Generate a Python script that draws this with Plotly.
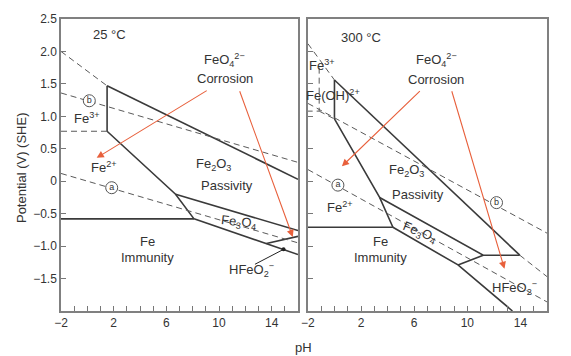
import plotly.graph_objects as go

# ---------------- axis ticks ----------------
ph_tickvals = [-2, 2, 6, 10, 14]
ph_ticktext = ["−2", "2", "6", "10", "14"]
e_tickvals = [-1.5, -1.0, -0.5, 0, 0.5, 1.0, 1.5, 2.0, 2.5]
e_ticktext = ["−1.5", "−1.0", "−0.5", "0", "0.5", "1.0", "1.5", "2.0", "2.5"]

# ---------------- 25 °C : solid phase boundaries (pH, E) ----------------
s25_top_ph = [1.5, 16.0]
s25_top_e = [1.47, 0.03]
s25_vert_ph = [1.5, 1.5]
s25_vert_e = [1.47, 0.77]
s25_fe2_ph = [1.5, 6.7, 8.1]
s25_fe2_e = [0.77, -0.20, -0.58]
s25_fe_ph = [-2.0, 8.1]
s25_fe_e = [-0.58, -0.58]
s25_mag_up_ph = [6.7, 16.0]
s25_mag_up_e = [-0.20, -0.76]
s25_mag_lo_ph = [8.1, 16.0]
s25_mag_lo_e = [-0.58, -1.13]
s25_hfeo2_ph = [13.6, 16.0]
s25_hfeo2_e = [-0.96, -0.85]

# ---------------- 25 °C : dashed lines ----------------
d25_top_ph = [-2.0, 1.5]
d25_top_e = [2.00, 1.47]
d25_fe3_ph = [-2.0, 1.5]
d25_fe3_e = [0.77, 0.77]
d25_a_ph = [-2.0, 16.0]
d25_a_e = [0.12, -0.95]
d25_b_ph = [-2.0, 16.0]
d25_b_e = [1.36, 0.29]

# ---------------- 300 °C : solid phase boundaries ----------------
s300_top_ph = [0.0, 13.95]
s300_top_e = [1.56, -1.14]
s300_vert_ph = [0.0, 0.0]
s300_vert_e = [1.56, 0.96]
s300_fe2_ph = [0.0, 3.4, 4.4]
s300_fe2_e = [0.96, -0.25, -0.71]
s300_fe_ph = [-2.0, 4.4]
s300_fe_e = [-0.71, -0.71]
s300_mag_up_ph = [3.4, 11.2, 13.95]
s300_mag_up_e = [-0.25, -1.14, -1.14]
s300_mag_lo_ph = [4.4, 9.3, 13.4]
s300_mag_lo_e = [-0.71, -1.29, -2.0]
s300_hfeo2_ph = [9.3, 11.2]
s300_hfeo2_e = [-1.29, -1.14]

# ---------------- 300 °C : dashed lines ----------------
d300_top_ph = [-2.0, 0.0]
d300_top_e = [2.12, 1.56]
d300_box_ph = [-1.15, -1.15, -2.0]
d300_box_e = [1.75, 1.08, 1.08]
d300_feoh_ph = [-1.15, 0.0]
d300_feoh_e = [1.08, 0.96]
d300_a_ph = [-2.0, 16.0]
d300_a_e = [0.18, -1.86]
d300_b_ph = [-2.0, 16.0]
d300_b_e = [1.20, -0.80]
d300_ext_ph = [13.95, 16.0]
d300_ext_e = [-1.14, -1.47]

# ---------------- circled labels ----------------
circ25_ph = [1.85, 0.15]
circ25_e = [-0.10, 1.24]
circ300_ph = [0.26, 12.2]
circ300_e = [-0.06, -0.33]
circ_text = ["a", "b"]

# ---------------- HFeO2- pointer (25 °C) ----------------
ptr25_ph = [12.73, 14.9]
ptr25_e = [-1.28, -1.05]

# ---------------- red arrows: (tail pH, tail E, head pH, head E) ----------------
arr25_tail_ph = [9.18, 11.53]
arr25_tail_e = [1.41, 1.41]
arr25_head_ph = [0.71, 15.6]
arr25_head_e = [0.36, -0.86]
arr300_tail_ph = [6.54, 8.8]
arr300_tail_e = [1.41, 1.41]
arr300_head_ph = [0.56, 12.8]
arr300_head_e = [0.23, -1.35]

# ---------------- text labels ----------------
lab25_text = ["25 °C", "FeO<sub>4</sub><sup>2−</sup>", "Corrosion", "Fe<sup>3+</sup>",
              "Fe<sup>2+</sup>", "Fe<sub>2</sub>O<sub>3</sub>", "Passivity",
              "Fe<sub>3</sub>O<sub>4</sub>", "Fe", "Immunity", "HFeO<sub>2</sub><sup>−</sup>"]
lab25_ph = [1.7, 10.45, 10.45, 0.0, 1.3, 9.6, 10.6, 11.5, 4.6, 4.6, 12.5]
lab25_e = [2.26, 1.87, 1.59, 0.98, 0.22, 0.26, -0.06, -0.64, -0.93, -1.18, -1.37]
lab25_ang = [0, 0, 0, 0, 0, 0, 0, 6, 0, 0, 0]

lab300_text = ["300 °C", "FeO<sub>4</sub><sup>2−</sup>", "Corrosion", "Fe<sup>3+</sup>",
               "Fe(OH)<sup>2+</sup>", "Fe<sub>2</sub>O<sub>3</sub>", "Passivity",
               "Fe<sup>2+</sup>", "Fe<sub>3</sub>O<sub>4</sub>", "Fe", "Immunity",
               "HFeO<sub>2</sub><sup>−</sup>"]
lab300_ph = [2.0, 7.67, 7.67, -0.95, -0.1, 5.4, 6.3, 0.4, 6.4, 3.5, 3.5, 13.55]
lab300_e = [2.22, 1.87, 1.57, 1.79, 1.33, 0.16, -0.20, -0.40, -0.79, -0.93, -1.17, -1.64]
lab300_ang = [0, 0, 0, 0, 0, 0, 0, 0, 22, 0, 0, 0]

FONT = "Liberation Sans, Arial, sans-serif"
TXT = "#333333"
SOLID = "#3a3a3a"
DASH = "#5a5a5a"
RED = "#e8603c"
LABEL_SIZE = 13

fig = go.Figure()


def add_line(ph, e, xa, ya, dashed=False):
    fig.add_trace(go.Scatter(
        x=ph, y=e, mode="lines", xaxis=xa, yaxis=ya, hoverinfo="skip",
        line=dict(color=DASH if dashed else SOLID,
                  width=1.0 if dashed else 1.6,
                  dash="6px,4px" if dashed else "solid"),
        showlegend=False))


for ph, e in [(s25_top_ph, s25_top_e), (s25_vert_ph, s25_vert_e), (s25_fe2_ph, s25_fe2_e),
              (s25_fe_ph, s25_fe_e), (s25_mag_up_ph, s25_mag_up_e),
              (s25_mag_lo_ph, s25_mag_lo_e), (s25_hfeo2_ph, s25_hfeo2_e)]:
    add_line(ph, e, "x", "y")
for ph, e in [(d25_top_ph, d25_top_e), (d25_fe3_ph, d25_fe3_e),
              (d25_a_ph, d25_a_e), (d25_b_ph, d25_b_e)]:
    add_line(ph, e, "x", "y", dashed=True)

for ph, e in [(s300_top_ph, s300_top_e), (s300_vert_ph, s300_vert_e),
              (s300_fe2_ph, s300_fe2_e), (s300_fe_ph, s300_fe_e),
              (s300_mag_up_ph, s300_mag_up_e), (s300_mag_lo_ph, s300_mag_lo_e),
              (s300_hfeo2_ph, s300_hfeo2_e)]:
    add_line(ph, e, "x2", "y2")
for ph, e in [(d300_top_ph, d300_top_e), (d300_box_ph, d300_box_e),
              (d300_feoh_ph, d300_feoh_e), (d300_a_ph, d300_a_e),
              (d300_b_ph, d300_b_e), (d300_ext_ph, d300_ext_e)]:
    add_line(ph, e, "x2", "y2", dashed=True)

# HFeO2- pointer with dot
fig.add_trace(go.Scatter(x=ptr25_ph, y=ptr25_e, mode="lines", xaxis="x", yaxis="y",
                         line=dict(color="#222", width=1), hoverinfo="skip", showlegend=False))
fig.add_trace(go.Scatter(x=ptr25_ph[-1:], y=ptr25_e[-1:], mode="markers", xaxis="x", yaxis="y",
                         marker=dict(color="#222", size=4), hoverinfo="skip", showlegend=False))

# circled letters
for ph, e, xa, ya in [(circ25_ph, circ25_e, "x", "y"), (circ300_ph, circ300_e, "x2", "y2")]:
    fig.add_trace(go.Scatter(
        x=ph, y=e, mode="markers+text", xaxis=xa, yaxis=ya, text=circ_text,
        textposition="middle center", hoverinfo="skip", showlegend=False,
        textfont=dict(family=FONT, size=9, color=TXT),
        marker=dict(symbol="circle", size=12, color="white",
                    line=dict(color="#555", width=1))))

annotations = []
for txt, ph, e, ang in zip(lab25_text, lab25_ph, lab25_e, lab25_ang):
    annotations.append(dict(x=ph, y=e, xref="x", yref="y", text=txt, showarrow=False,
                            textangle=ang, font=dict(family=FONT, size=LABEL_SIZE, color=TXT)))
for txt, ph, e, ang in zip(lab300_text, lab300_ph, lab300_e, lab300_ang):
    annotations.append(dict(x=ph, y=e, xref="x2", yref="y2", text=txt, showarrow=False,
                            textangle=ang, font=dict(family=FONT, size=LABEL_SIZE, color=TXT)))

for tph, te, hph, he in zip(arr25_tail_ph, arr25_tail_e, arr25_head_ph, arr25_head_e):
    annotations.append(dict(x=hph, y=he, ax=tph, ay=te, xref="x", yref="y", axref="x",
                            ayref="y", text="", showarrow=True, arrowhead=2, arrowsize=1.3,
                            arrowwidth=1.1, arrowcolor=RED, standoff=0, startstandoff=0))
for tph, te, hph, he in zip(arr300_tail_ph, arr300_tail_e, arr300_head_ph, arr300_head_e):
    annotations.append(dict(x=hph, y=he, ax=tph, ay=te, xref="x2", yref="y2", axref="x2",
                            ayref="y2", text="", showarrow=True, arrowhead=2, arrowsize=1.3,
                            arrowwidth=1.1, arrowcolor=RED, standoff=0, startstandoff=0))

# axis titles
annotations.append(dict(x=0.498, y=-0.125, xref="paper", yref="paper", text="pH",
                        showarrow=False, yanchor="middle",
                        font=dict(family=FONT, size=LABEL_SIZE, color=TXT)))
annotations.append(dict(x=-0.08, y=0.49, xref="paper", yref="paper",
                        text="Potential (V) (SHE)", textangle=-90, showarrow=False,
                        xanchor="center", yanchor="middle",
                        font=dict(family=FONT, size=LABEL_SIZE, color=TXT)))

common_x = dict(range=[-2, 16], tickvals=ph_tickvals, ticktext=ph_ticktext, ticks="inside",
                ticklen=5, tickcolor="#777", showline=True, linecolor="#808080",
                linewidth=1.5, mirror=True, showgrid=False, zeroline=False,
                tickfont=dict(family=FONT, size=12, color=TXT),
                minor=dict(dtick=1, tick0=0, ticks="inside", ticklen=5, tickcolor="#777",
                           showgrid=False))
common_y = dict(range=[-2, 2.5], tickvals=e_tickvals, ticktext=e_ticktext, ticks="inside",
                ticklen=5, tickcolor="#777", showline=True, linecolor="#808080",
                linewidth=1.5, mirror=True, showgrid=False, zeroline=False,
                tickfont=dict(family=FONT, size=12, color=TXT))

fig.update_layout(
    width=571, height=356,
    margin=dict(l=61, r=24, t=17, b=45),
    paper_bgcolor="white", plot_bgcolor="white",
    xaxis=dict(domain=[0, 0.4877], anchor="y", **common_x),
    xaxis2=dict(domain=[0.508, 1.0], anchor="y2", **common_x),
    yaxis=dict(anchor="x", **common_y),
    yaxis2=dict(anchor="x2", showticklabels=False, **common_y),
    annotations=annotations,
    showlegend=False,
)

fig.write_html("out.html",
               config={"displayModeBar": False},
               post_script="document.body.style.margin='0';"
                           "document.body.style.overflow='hidden';")
